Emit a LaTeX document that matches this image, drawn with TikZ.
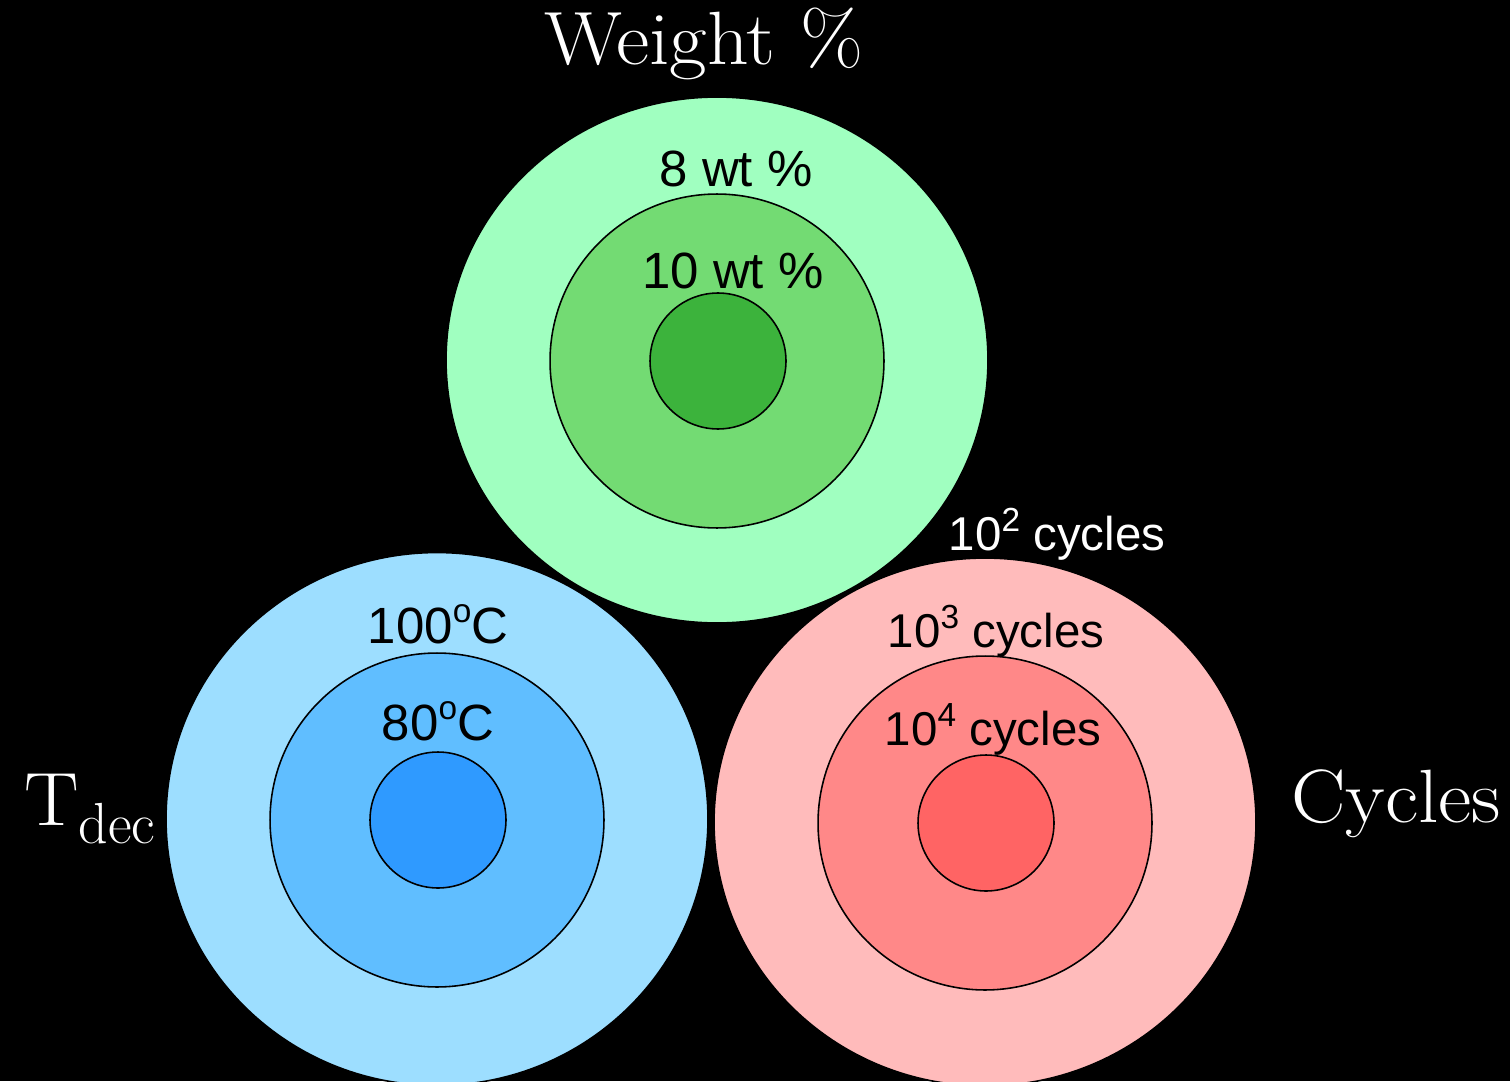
\documentclass[tikz,border=0pt]{standalone}
\usepackage{fontspec}
\usepackage{xcolor}
\usepackage{graphicx}
\usepackage{tikz}
\usetikzlibrary{positioning,shapes.geometric}
\newfontfamily\labelfont{Liberation Sans}
\definecolor{greenA}{HTML}{A0FFC0}
\definecolor{greenB}{HTML}{73DB73}
\definecolor{greenC}{HTML}{3CB33C}
\definecolor{blueA}{HTML}{9DDEFF}
\definecolor{blueB}{HTML}{60BEFF}
\definecolor{blueC}{HTML}{2F9AFF}
\definecolor{redA}{HTML}{FFBBBB}
\definecolor{redB}{HTML}{FF8888}
\definecolor{redC}{HTML}{FF6464}
\newcommand{\wide}[1]{\scalebox{1.08}[1]{#1}}
\newcommand{\upper}[1]{\raisebox{0.4em}{\fontsize{19}{19}\selectfont #1}}
\tikzset{
  ring/.style={circle, draw=black, line width=0.9pt, inner sep=0pt, outer sep=0pt},
  rim/.style={ellipse, draw=black, line width=0.9pt, inner sep=0pt, outer sep=0pt,
              minimum width=10.84cm},
  lbl/.style={anchor=base, font=\labelfont\fontsize{29}{29}\selectfont},
  cyclbl/.style={lbl, font=\labelfont\fontsize{27}{27}\selectfont},
  ttl/.style={anchor=base, text=white, font=\fontsize{43}{43}\selectfont}
}

\begin{document}
\begin{tikzpicture}[x=0.02cm, y=-0.02cm]
        \useasboundingbox (0,0) rectangle (1510,1081);
        \fill[black] (0,0) rectangle (1510,1081);
        \clip (0,0) rectangle (1510,1081);
        % three targets: outer rim, middle ring, inner ring
        \foreach \cx/\cy/\ry/\nm/\ca/\cb/\cc in {717/360/10.52/wt/greenA/greenB/greenC,
                                                 437/819/10.66/td/blueA/blueB/blueC,
                                                 985/822/10.56/cy/redA/redB/redC} {
            \node[rim, fill=\ca, minimum height=\ry cm] (\nm-out) at (\cx,\cy) {};
            \node[ring, fill=\cb, minimum size=6.68cm] (\nm-mid) at (\cx,\cy+1) {};
            \node[ring, fill=\cc, minimum size=2.72cm] (\nm-in) at (\cx+1,\cy+1) {};
        }
        % titles
        \node[ttl] (wtTitle) at (704,65) {\wide{Weight \%}};
        \node[ttl, anchor=base west] (tdTitle) at (18,825)
            {\wide{T}\raisebox{-10.8pt}{\fontsize{33}{33}\selectfont dec}};
        \node[ttl] (cyTitle) at (1396,822) {\wide{Cycles}};
        % ring labels
        \node[lbl] (wt8) at (736,187) {8 wt \%};
        \node[lbl] (wt10) at (733,288) {10 wt \%};
        \node[lbl] (td100) at (438,643) {100\upper{o}C};
        \node[lbl] (td80) at (438,740) {80\upper{o}C};
        \node[cyclbl, text=white] (cy2) at (1057,550) {10\upper{2} cycles};
        \node[cyclbl] (cy3) at (996,647) {10\upper{3} cycles};
        \node[cyclbl] (cy4) at (993,745) {10\upper{4} cycles};
    \end{tikzpicture}
\end{document}
